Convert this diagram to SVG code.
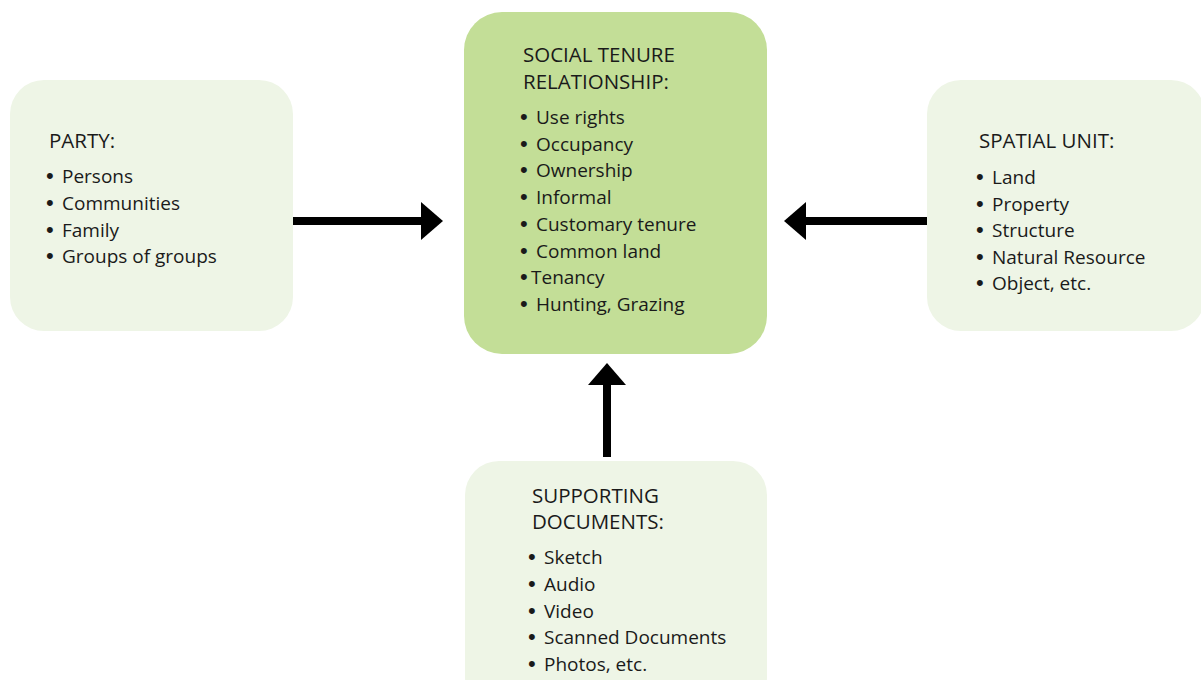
<svg xmlns="http://www.w3.org/2000/svg" width="1201" height="680" viewBox="0 0 1201 680">
<defs>
<marker id="head" markerUnits="userSpaceOnUse" markerWidth="22" markerHeight="38" refX="0" refY="19" orient="auto" overflow="visible">
<path d="M0,0 L22,19 L0,38 Z" fill="#000"/>
</marker>
<style>
.light{fill:#eef5e6;}
.main{fill:#c3de97;}
text{font-family:"Open Sans","Noto Sans","Liberation Sans",sans-serif;fill:#1a1a1a;}
.t{font-size:20.5px;}
.b{font-size:19px;}
.d{font-family:"Liberation Sans",sans-serif;font-size:22px;}
.conn{stroke:#000;stroke-width:8;fill:none;marker-end:url(#head);}
</style>
</defs>
<rect width="1201" height="680" fill="#fff"/>
<g id="party">
<rect class="light" x="10" y="80" width="283" height="251" rx="34"/>
<text class="t" x="49" y="148">PARTY:</text>
<text class="b" y="183"><tspan class="d" x="46">• </tspan><tspan x="62">Persons</tspan></text>
<text class="b" y="210"><tspan class="d" x="46">• </tspan><tspan x="62">Communities</tspan></text>
<text class="b" y="237"><tspan class="d" x="46">• </tspan><tspan x="62">Family</tspan></text>
<text class="b" y="263"><tspan class="d" x="46">• </tspan><tspan x="62">Groups of groups</tspan></text>
</g>
<g id="social-tenure">
<rect class="main" x="464" y="12" width="303" height="342" rx="38"/>
<text class="t" x="523" y="62">SOCIAL TENURE</text>
<text class="t" x="523" y="89">RELATIONSHIP:</text>
<text class="b" y="124"><tspan class="d" x="520">• </tspan><tspan x="536">Use rights</tspan></text>
<text class="b" y="150.7"><tspan class="d" x="520">• </tspan><tspan x="536">Occupancy</tspan></text>
<text class="b" y="177.4"><tspan class="d" x="520">• </tspan><tspan x="536">Ownership</tspan></text>
<text class="b" y="204"><tspan class="d" x="520">• </tspan><tspan x="536">Informal</tspan></text>
<text class="b" y="230.8"><tspan class="d" x="520">• </tspan><tspan x="536">Customary tenure</tspan></text>
<text class="b" y="257.5"><tspan class="d" x="520">• </tspan><tspan x="536">Common land</tspan></text>
<text class="b" y="284"><tspan class="d" x="520">•</tspan><tspan x="531">Tenancy</tspan></text>
<text class="b" y="311"><tspan class="d" x="520">• </tspan><tspan x="536">Hunting, Grazing</tspan></text>
</g>
<g id="spatial-unit">
<rect class="light" x="927" y="80" width="278" height="251" rx="34"/>
<text class="t" x="979" y="148">SPATIAL UNIT:</text>
<text class="b" y="184"><tspan class="d" x="976">• </tspan><tspan x="992">Land</tspan></text>
<text class="b" y="210.5"><tspan class="d" x="976">• </tspan><tspan x="992">Property</tspan></text>
<text class="b" y="237"><tspan class="d" x="976">• </tspan><tspan x="992">Structure</tspan></text>
<text class="b" y="263.5"><tspan class="d" x="976">• </tspan><tspan x="992">Natural Resource</tspan></text>
<text class="b" y="290"><tspan class="d" x="976">• </tspan><tspan x="992">Object, etc.</tspan></text>
</g>
<g id="supporting-documents">
<rect class="light" x="465" y="461" width="302" height="250" rx="34"/>
<text class="t" x="532" y="503">SUPPORTING</text>
<text class="t" x="532" y="529">DOCUMENTS:</text>
<text class="b" y="564"><tspan class="d" x="528">• </tspan><tspan x="544">Sketch</tspan></text>
<text class="b" y="591"><tspan class="d" x="528">• </tspan><tspan x="544">Audio</tspan></text>
<text class="b" y="617.5"><tspan class="d" x="528">• </tspan><tspan x="544">Video</tspan></text>
<text class="b" y="644"><tspan class="d" x="528">• </tspan><tspan x="544">Scanned Documents</tspan></text>
<text class="b" y="671"><tspan class="d" x="528">• </tspan><tspan x="544">Photos, etc.</tspan></text>
</g>
<g id="connectors">
<line class="conn" x1="293" y1="221" x2="421" y2="221"/>
<line class="conn" x1="927" y1="221" x2="806" y2="221"/>
<line class="conn" x1="607" y1="457" x2="607" y2="385"/>
</g>
</svg>
